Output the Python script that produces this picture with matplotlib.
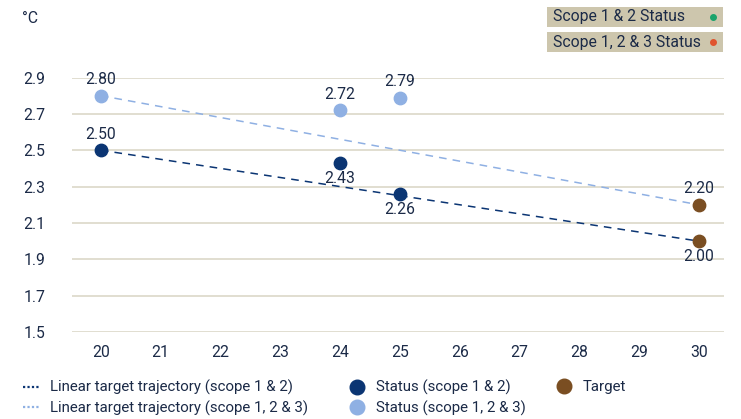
import matplotlib.pyplot as plt
from matplotlib.lines import Line2D
from matplotlib.patches import Rectangle

plt.rcParams["font.family"] = ["Roboto", "DejaVu Sans"]

TEXT = "#1b2a47"
DARK = "#0b3573"
LIGHT = "#8fb0e3"
BROWN = "#7a4e22"
GRID = "#dcd8c8"
BOX = "#cdc6ad"
FS = 11.3

# data
traj_years = [20, 30]
traj_12 = [2.50, 2.00]
traj_123 = [2.80, 2.20]

status12_years = [20, 24, 25]
status12_vals = [2.50, 2.43, 2.26]
status123_years = [20, 24, 25]
status123_vals = [2.80, 2.72, 2.79]
target_years = [30, 30]
target_vals = [2.20, 2.00]

yticks = [1.5, 1.7, 1.9, 2.1, 2.3, 2.5, 2.7, 2.9]
xticks = list(range(20, 31))

fig = plt.figure(figsize=(7.41, 4.19), dpi=100)
ax = fig.add_axes([0.097, 0.2076, 0.88, 0.6074])

ax.plot(traj_years, traj_12, color=DARK, lw=1.1, ls=(0, (5, 4)), zorder=2)
ax.plot(traj_years, traj_123, color=LIGHT, lw=1.1, ls=(0, (5, 4)), zorder=2)

ax.scatter(status12_years, status12_vals, s=80, color=DARK, zorder=3, clip_on=False)
ax.scatter(status123_years, status123_vals, s=80, color=LIGHT, zorder=3, clip_on=False)
ax.scatter(target_years, target_vals, s=80, color=BROWN, zorder=3, clip_on=False)

# value labels: (x, y, above?)
labels = [
    (20, 2.80, True), (20, 2.50, True), (24, 2.72, True), (25, 2.79, True),
    (24, 2.43, False), (25, 2.26, False), (30, 2.20, True), (30, 2.00, False),
]
for x, y, above in labels:
    ax.annotate("%.2f" % y, (x, y), xytext=(0, 6 if above else -6),
                textcoords="offset points", ha="center",
                va="bottom" if above else "top", fontsize=FS, color=TEXT)

ax.set_xlim(19.515, 30.42)
ax.set_ylim(1.5, 2.9)
ax.set_yticks(yticks)
ax.set_yticklabels(["%.1f" % t for t in yticks])
ax.set_xticks(xticks)
ax.grid(axis="y", color=GRID, lw=1.2, zorder=0)
ax.set_axisbelow(True)
for s in ax.spines.values():
    s.set_visible(False)
ax.tick_params(length=0, labelsize=FS, labelcolor=TEXT)
ax.tick_params(axis="y", pad=19)
ax.tick_params(axis="x", pad=9)

fig.text(0.03, 0.955, "°C", fontsize=FS, color=TEXT, va="center")

# status boxes top right
for i, (name, dot) in enumerate([("Scope 1 & 2 Status", "#1aa36b"),
                                  ("Scope 1, 2 & 3 Status", "#e0542e")]):
    top = 7 + i * 25
    fig.add_artist(Rectangle((547 / 741, 1 - (top + 20) / 419), 176 / 741, 20 / 419,
                             transform=fig.transFigure, color=BOX, lw=0))
    fig.text(553 / 741, 1 - (top + 10) / 419, name, fontsize=FS, color=TEXT, va="center")
    fig.add_artist(Line2D([713 / 741], [1 - (top + 10) / 419], marker="o", ms=4,
                          color=dot, transform=fig.transFigure, lw=0))

# legend, one block per column
columns = [
    ([Line2D([], [], color=DARK, ls=(0, (1, 1)), lw=1.6),
      Line2D([], [], color=LIGHT, ls=(0, (1, 1)), lw=1.6)],
     ["Linear target trajectory (scope 1 & 2)",
      "Linear target trajectory (scope 1, 2 & 3)"], 23, 1.07, 0.73),
    ([Line2D([], [], color=DARK, marker="o", ms=10.5, lw=0),
      Line2D([], [], color=LIGHT, marker="o", ms=10.5, lw=0)],
     ["Status (scope 1 & 2)", "Status (scope 1, 2 & 3)"], 349.5, 1.0, 0.77),
    ([Line2D([], [], color=BROWN, marker="o", ms=10.5, lw=0)],
     ["Target"], 556.5, 1.0, 0.77),
]
for handles, names, left, hl, pad in columns:
    fig.legend(handles, names, loc="upper left", bbox_to_anchor=(left / 741, 1 - 380 / 419),
               frameon=False, fontsize=10.8, handlelength=hl, handletextpad=pad,
               borderpad=0, borderaxespad=0, labelspacing=0.35, labelcolor=TEXT)

fig.savefig("out.png", dpi=100)
